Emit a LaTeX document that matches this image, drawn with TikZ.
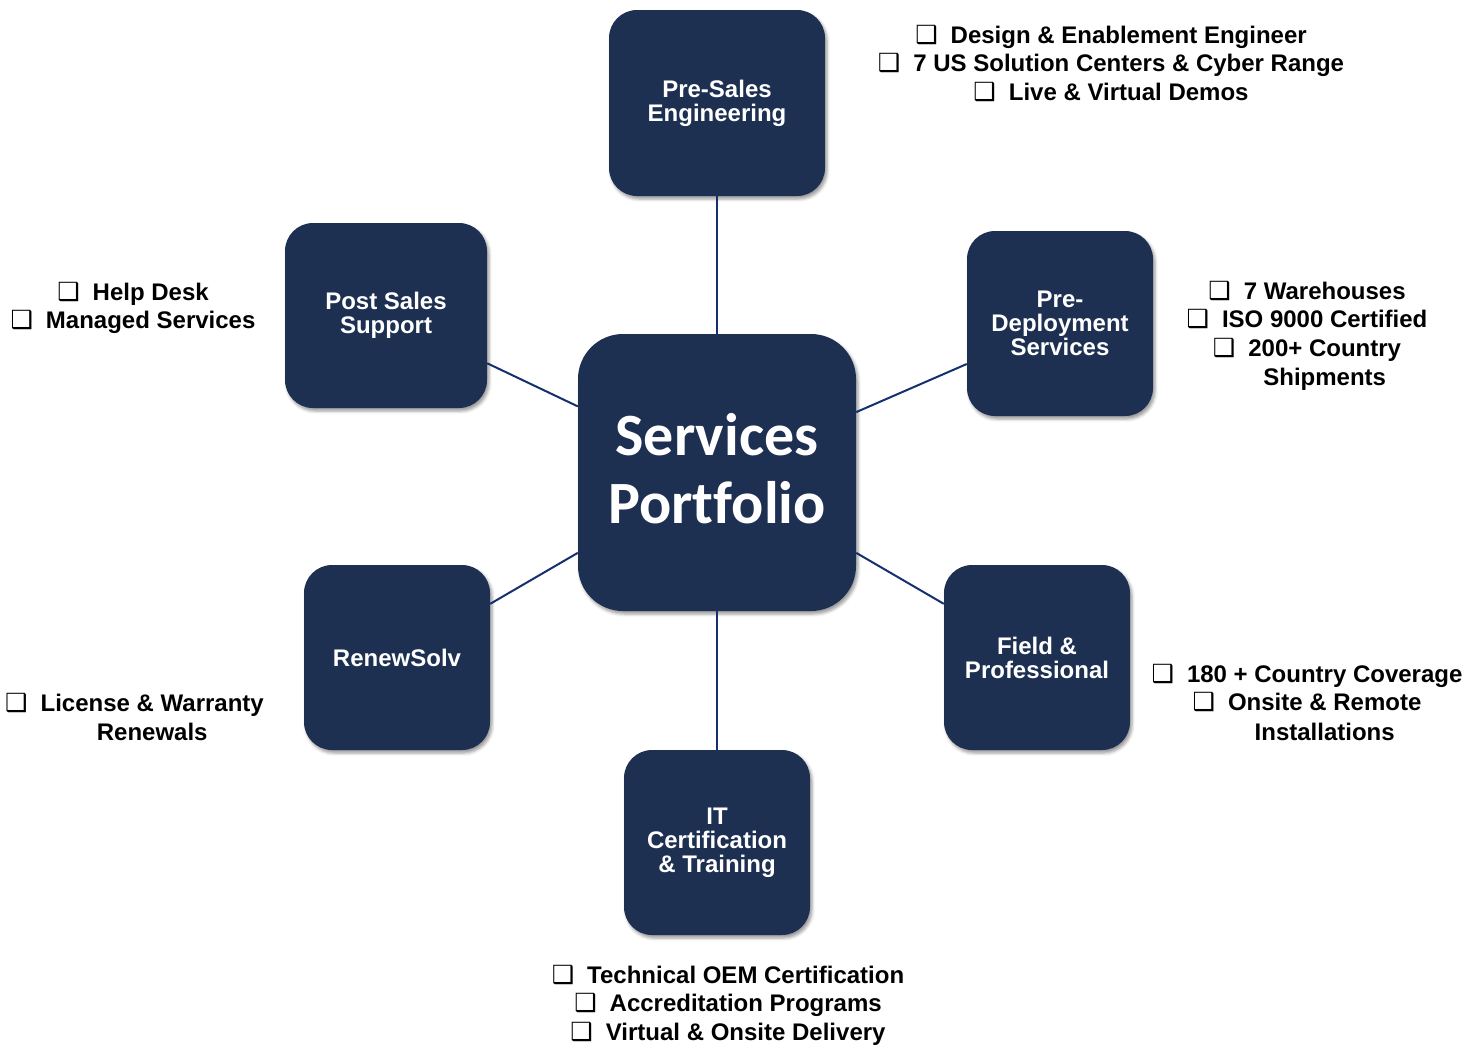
\documentclass[tikz,border=0pt]{standalone}
\usepackage{fontspec}
\setmainfont{Liberation Sans}
\newfontfamily\carlito[Ligatures={NoCommon}]{Carlito}
\newfontfamily\djv{DejaVu Sans}
\usetikzlibrary{shadows.blur}
\definecolor{navy}{HTML}{1E3052}
\definecolor{linkc}{HTML}{14306E}
\newcommand\cbx{{\djv\fontsize{25}{25}\selectfont\symbol{"2751}}\hspace{13pt}}
\newcommand\cbph{\phantom{\cbx}}
\begin{document}
\begin{tikzpicture}[x=1pt,y=-1pt,
  box/.style={fill=navy, rounded corners=28pt, text=white,
    font=\fontsize{24}{24}\selectfont\bfseries, align=center, inner sep=0pt,
    minimum width=186pt, minimum height=186pt,
    blur shadow={shadow xshift=2pt, shadow yshift=-3pt, shadow blur radius=3pt, shadow opacity=40}},
  hub/.style={box, rounded corners=45pt, minimum width=278pt, minimum height=277pt,
    font=\carlito\bfseries\fontsize{60}{68}\selectfont},
  link/.style={draw=linkc, line width=2pt},
  bul/.style={font=\fontsize{24}{24}\selectfont\bfseries, anchor=base, inner sep=0pt}]
\useasboundingbox (0,0) rectangle (1479,1045);

% boxes
\node[hub, minimum height=277pt] (sp) at (717,472.5) {\raisebox{-3pt}[\height][\depth]{\begin{tabular}{@{}c@{}}Services\\Portfolio\end{tabular}}};
\node[box, minimum width=216pt] (pse) at (717,103) {Pre-Sales\\Engineering};
\node[box, minimum width=202pt, minimum height=185pt] (pss) at (386,315.5) {Post Sales\\Support};
\node[box, minimum height=185pt] (pds) at (1060,323.5) {Pre-\\Deployment\\Services};
\node[box, minimum height=185pt] (rs) at (397,657.5) {RenewSolv};
\node[box, minimum height=185pt] (fp) at (1037,657.5) {Field \&\\Professional};
\node[box, minimum height=185pt] (itc) at (717,842.5) {IT\\Certification\\\& Training};

% connectors
\draw[link] (sp) -- (pse);
\draw[link] (sp) -- (pss);
\draw[link] (sp) -- (pds);
\draw[link] (sp) -- (rs);
\draw[link] (sp) -- (fp);
\draw[link] (sp) -- (itc);

% lists
\foreach \t [count=\i] in {Design \& Enablement Engineer, 7 US Solution Centers \& Cyber Range, Live \& Virtual Demos}
  \node[bul] (lpse\i) at (1111, 43+28.7*\i-28.7) {\cbx\t};
\foreach \t [count=\i] in {Help Desk, Managed Services}
  \node[bul] (lpss\i) at (133, 300+28.7*\i-28.7) {\cbx\t};
\foreach \t [count=\i] in {7 Warehouses, ISO 9000 Certified, 200+ Country}
  \node[bul] (lpds\i) at (1307, 299+28.7*\i-28.7) {\cbx\t};
\node[bul] (lpds4) at (1307, 385) {\cbph Shipments};
\foreach \t [count=\i] in {180 + Country Coverage, Onsite \& Remote}
  \node[bul] (lfp\i) at (1307, 682+28.7*\i-28.7) {\cbx\t};
\node[bul] (lfp3) at (1307, 740) {\cbph Installations};
\node[bul] (lrs1) at (134.5, 711) {\cbx License \& Warranty};
\node[bul] (lrs2) at (134.5, 740) {\cbph Renewals};
\foreach \t [count=\i] in {Technical OEM Certification, Accreditation Programs, Virtual \& Onsite Delivery}
  \node[bul] (litc\i) at (728, 983+28.7*\i-28.7) {\cbx\t};
\end{tikzpicture}
\end{document}
